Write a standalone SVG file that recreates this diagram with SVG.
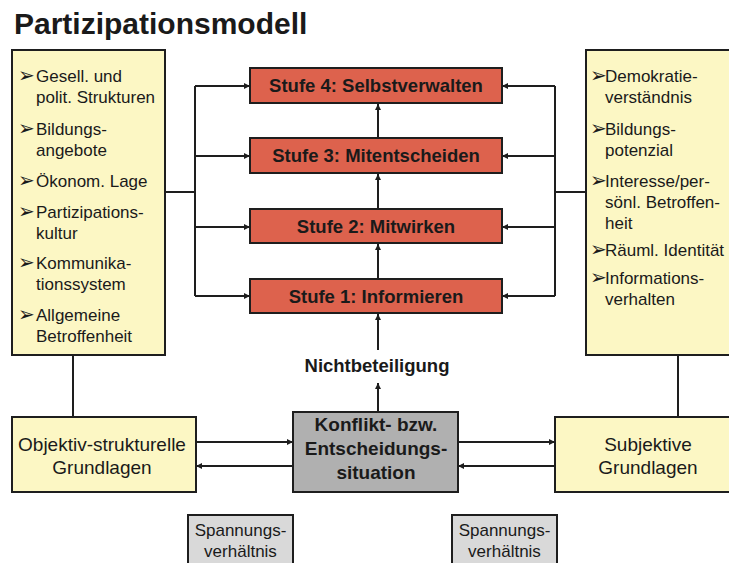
<svg xmlns="http://www.w3.org/2000/svg" width="729" height="563" viewBox="0 0 729 563">
<style>
text{font-family:"Liberation Sans",Arial,sans-serif;fill:#1a1a1a}
.box{stroke:#1e1e1e;stroke-width:2}
.yel{fill:#fcf7c4}
.red{fill:#dd624d}
.gray{fill:#b0b0b0}
.lgray{fill:#d9d9d9}
.lst{font-size:17px}
.bul{font-family:"DejaVu Sans",sans-serif;font-size:20px}
.stufe{font-size:18.5px;font-weight:bold;text-anchor:middle}
.mid{text-anchor:middle}
.con line,.con path{stroke:#1e1e1e;stroke-width:2;fill:none}
</style>
<defs>
<marker id="ah" viewBox="0 0 10 10" refX="10" refY="5" markerWidth="6" markerHeight="6" markerUnits="userSpaceOnUse" orient="auto">
<path d="M0,0 L10,5 L0,10 z" fill="#1e1e1e"/>
</marker>
</defs>
<rect width="729" height="563" fill="#ffffff"/>
<text x="14" y="34" font-size="30" font-weight="bold">Partizipationsmodell</text>

<g class="con">
<line x1="165" y1="192" x2="195" y2="192"/>
<line x1="195" y1="86" x2="195" y2="296"/>
<line x1="195" y1="86" x2="250" y2="86" marker-end="url(#ah)"/>
<line x1="195" y1="156" x2="250" y2="156" marker-end="url(#ah)"/>
<line x1="195" y1="227" x2="250" y2="227" marker-end="url(#ah)"/>
<line x1="195" y1="296" x2="250" y2="296" marker-end="url(#ah)"/>
<line x1="586" y1="192" x2="555" y2="192"/>
<line x1="555" y1="86" x2="555" y2="296"/>
<line x1="555" y1="86" x2="502" y2="86" marker-end="url(#ah)"/>
<line x1="555" y1="156" x2="502" y2="156" marker-end="url(#ah)"/>
<line x1="555" y1="227" x2="502" y2="227" marker-end="url(#ah)"/>
<line x1="555" y1="296" x2="502" y2="296" marker-end="url(#ah)"/>
<line x1="378" y1="279" x2="378" y2="244" marker-end="url(#ah)"/>
<line x1="378" y1="209" x2="378" y2="174" marker-end="url(#ah)"/>
<line x1="378" y1="138" x2="378" y2="104" marker-end="url(#ah)"/>
<line x1="378" y1="350" x2="378" y2="314" marker-end="url(#ah)"/>
<line x1="378" y1="412" x2="378" y2="383" marker-end="url(#ah)"/>
<line x1="73" y1="355" x2="73" y2="417"/>
<line x1="678" y1="355" x2="678" y2="417"/>
<line x1="196" y1="442" x2="293" y2="442" marker-end="url(#ah)"/>
<line x1="293" y1="466" x2="196" y2="466" marker-end="url(#ah)"/>
<line x1="458" y1="442" x2="555" y2="442" marker-end="url(#ah)"/>
<line x1="555" y1="466" x2="458" y2="466" marker-end="url(#ah)"/>
</g>

<g id="left-factors">
<rect class="box yel" x="12" y="50" width="153" height="305"/>
<text class="bul" x="18" y="82">➢</text>
<text class="lst" x="36" y="82">Gesell. und</text>
<text class="lst" x="36" y="103">polit. Strukturen</text>
<text class="bul" x="18" y="135">➢</text>
<text class="lst" x="36" y="135">Bildungs-</text>
<text class="lst" x="36" y="156">angebote</text>
<text class="bul" x="18" y="187">➢</text>
<text class="lst" x="36" y="187">Ökonom. Lage</text>
<text class="bul" x="18" y="218">➢</text>
<text class="lst" x="36" y="218">Partizipations-</text>
<text class="lst" x="36" y="239">kultur</text>
<text class="bul" x="18" y="269">➢</text>
<text class="lst" x="36" y="269">Kommunika-</text>
<text class="lst" x="36" y="290">tionssystem</text>
<text class="bul" x="18" y="321">➢</text>
<text class="lst" x="36" y="321">Allgemeine</text>
<text class="lst" x="36" y="342">Betroffenheit</text>
</g>

<g id="right-factors">
<rect class="box yel" x="586" y="50" width="150" height="305"/>
<text class="bul" x="590" y="82">➢</text>
<text class="lst" x="605" y="82">Demokratie-</text>
<text class="lst" x="605" y="103">verständnis</text>
<text class="bul" x="590" y="135">➢</text>
<text class="lst" x="605" y="135">Bildungs-</text>
<text class="lst" x="605" y="156">potenzial</text>
<text class="bul" x="590" y="187">➢</text>
<text class="lst" x="605" y="187">Interesse/per-</text>
<text class="lst" x="605" y="208">sönl. Betroffen-</text>
<text class="lst" x="605" y="229">heit</text>
<text class="bul" x="590" y="256">➢</text>
<text class="lst" x="605" y="256">Räuml. Identität</text>
<text class="bul" x="590" y="284">➢</text>
<text class="lst" x="605" y="284">Informations-</text>
<text class="lst" x="605" y="305">verhalten</text>
</g>

<g id="stufe4">
<rect class="box red" x="250" y="68" width="252" height="35"/>
<text class="stufe" x="376" y="92">Stufe 4: Selbstverwalten</text>
</g>
<g id="stufe3">
<rect class="box red" x="250" y="138" width="252" height="35"/>
<text class="stufe" x="376" y="162">Stufe 3: Mitentscheiden</text>
</g>
<g id="stufe2">
<rect class="box red" x="250" y="209" width="252" height="34"/>
<text class="stufe" x="376" y="233">Stufe 2: Mitwirken</text>
</g>
<g id="stufe1">
<rect class="box red" x="250" y="279" width="252" height="34"/>
<text class="stufe" x="376" y="303">Stufe 1: Informieren</text>
</g>

<g id="nichtbeteiligung">
<text class="mid" x="377" y="372" font-size="18.5" font-weight="bold">Nichtbeteiligung</text>
</g>

<g id="konflikt">
<rect class="box gray" x="293" y="412" width="165" height="80"/>
<text class="mid" x="376" y="431" font-size="19" font-weight="bold">Konflikt- bzw.</text>
<text class="mid" x="376" y="455" font-size="19" font-weight="bold">Entscheidungs-</text>
<text class="mid" x="376" y="479" font-size="19" font-weight="bold">situation</text>
</g>

<g id="objektiv">
<rect class="box yel" x="12" y="417" width="184" height="75"/>
<text class="mid" x="102" y="451" font-size="19">Objektiv-strukturelle</text>
<text class="mid" x="102" y="474" font-size="19">Grundlagen</text>
</g>

<g id="subjektiv">
<rect class="box yel" x="555" y="417" width="180" height="75"/>
<text class="mid" x="648" y="451" font-size="19">Subjektive</text>
<text class="mid" x="648" y="474" font-size="19">Grundlagen</text>
</g>

<g id="spannung-left">
<rect class="box lgray" x="188" y="515" width="105" height="55"/>
<text class="mid" x="240.5" y="536" font-size="17">Spannungs-</text>
<text class="mid" x="240.5" y="557" font-size="17">verhältnis</text>
</g>
<g id="spannung-right">
<rect class="box lgray" x="452" y="515" width="105" height="55"/>
<text class="mid" x="504.5" y="536" font-size="17">Spannungs-</text>
<text class="mid" x="504.5" y="557" font-size="17">verhältnis</text>
</g>
</svg>
